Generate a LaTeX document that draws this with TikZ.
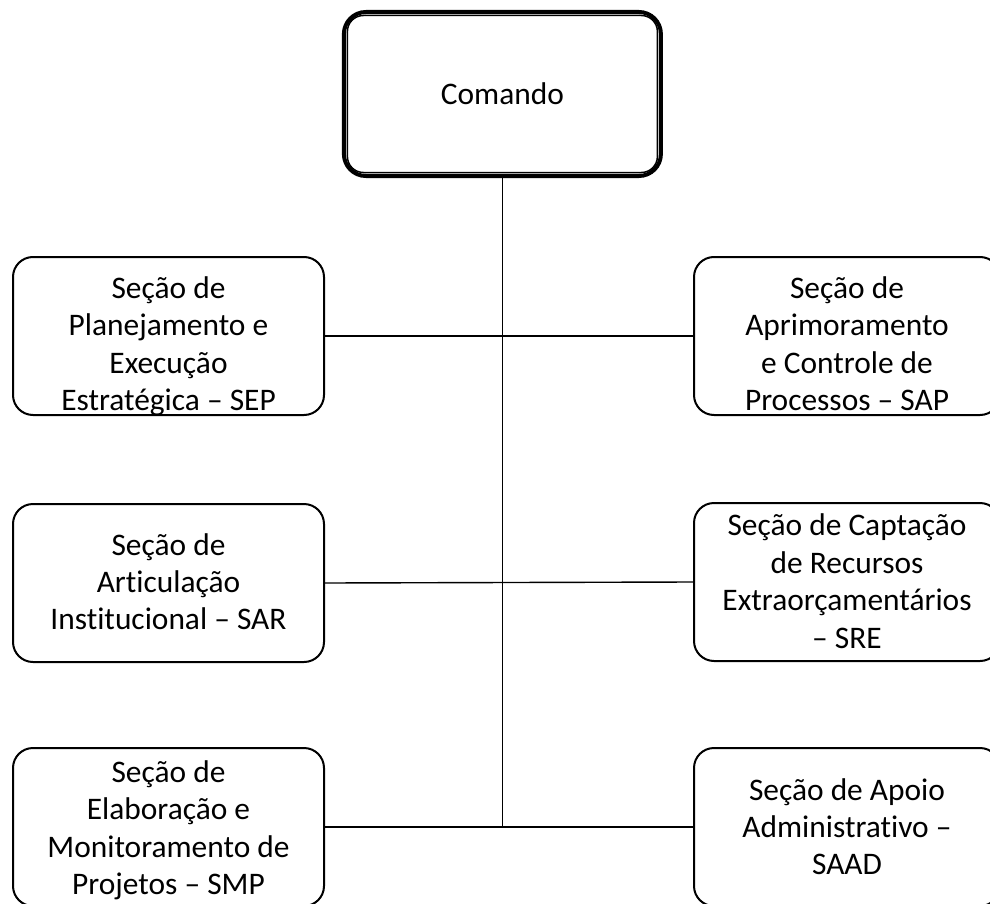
\documentclass[tikz,border=0pt]{standalone}
\usepackage{fontspec}
\setmainfont{Carlito}[Ligatures=NoCommon]
\usetikzlibrary{positioning}
% text block lowered inside its box, box size kept
\newcommand{\sectxt}[2]{\raisebox{-#1}[0pt][0pt]{\begin{tabular}{c}#2\end{tabular}}}

\begin{document}
\begin{tikzpicture}[x=0.5pt,y=-0.5pt,
		every node/.style={font=\fontsize{15.7pt}{18.7pt}\selectfont, align=center},
		sec/.style={draw, line width=1pt, rounded corners=10pt, minimum height=79pt, inner sep=0pt},
		secl/.style={sec, minimum width=155.5pt},
		secr/.style={sec, minimum width=153pt},
		link/.style={line width=0.7pt}]
	\useasboundingbox (0,0) rectangle (990,904);
	\node[draw, line width=2pt, rounded corners=11pt, minimum width=158.5pt, minimum height=82pt] (cmd) at (502.4,94) {Comando};
	\draw[line width=0.75pt, rounded corners=8pt] ([shift={(2.75pt,2.75pt)}]cmd.south west) rectangle ([shift={(-2.75pt,-2.75pt)}]cmd.north east);
	
	\node[secl] (sep) at (168.5,336) {\sectxt{9.15pt}{Seção de\\Planejamento e\\Execução\\Estratégica -- SEP}};
	\node[secl] (sar) at (168.5,583) {\sectxt{4.65pt}{Seção de\\Articulação\\Institucional -- SAR}};
	\node[secl] (smp) at (168.5,827) {\sectxt{5.65pt}{Seção de\\Elaboração e\\Monitoramento de\\Projetos -- SMP}};
	
	\node[secr] (sap) at (847,336) {\sectxt{9.15pt}{Seção de\\Aprimoramento\\e Controle de\\Processos -- SAP}};
	\node[secr] (sre) at (847,582) {\sectxt{4.9pt}{Seção de Captação\\de Recursos\\Extraorçamentários\\-- SRE}};
	\node[secr] (saad) at (847,827) {\sectxt{5.15pt}{Seção de Apoio\\Administrativo --\\SAAD}};
	
	\draw[link] (cmd.south) -- (cmd.south |- smp.east);
	\draw[link] (sep.east) -- (sap.west);
	\draw[link] (sar.east) -- (sre.west);
	\draw[link] (smp.east) -- (saad.west);
\end{tikzpicture}
\end{document}
